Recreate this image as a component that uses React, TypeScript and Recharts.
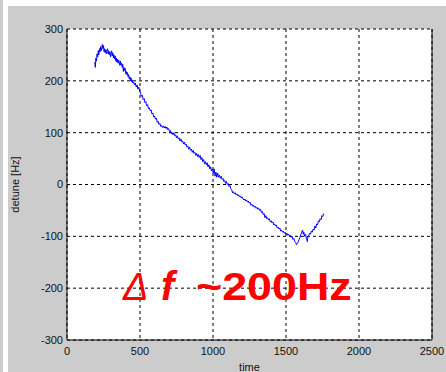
import React from 'react';
import {
  LineChart,
  Line,
  XAxis,
  YAxis,
  CartesianGrid,
  ReferenceLine,
  Customized,
  Label,
} from 'recharts';

// Detune trace as [time, detune in Hz] samples
const detuneTrace: [number, number][] = [
  [190, 236], [194, 226], [198, 244], [202, 238], [206, 252], [210, 246], [214, 258], [218, 250],
  [222, 262], [226, 256], [230, 266], [234, 258], [238, 264], [242, 270], [246, 262], [250, 268],
  [254, 256], [258, 262], [262, 254], [266, 260], [270, 252], [274, 258], [278, 262], [282, 252],
  [286, 258], [290, 250], [294, 256], [298, 246], [302, 252], [306, 258], [310, 248], [314, 254],
  [318, 244], [322, 250], [326, 242], [330, 248], [334, 238], [338, 244], [342, 236], [346, 242],
  [350, 234], [354, 240], [358, 236], [362, 230], [366, 238], [370, 230], [374, 234], [378, 226],
  [382, 232], [386, 218], [390, 226], [394, 220], [398, 224], [402, 214], [406, 218], [410, 212],
  [414, 216], [418, 208], [422, 212], [426, 204], [430, 208], [434, 200], [438, 206], [442, 198],
  [446, 202], [450, 196], [456, 198], [462, 192], [468, 196], [474, 188], [480, 192], [486, 184],
  [492, 188], [498, 180], [504, 176], [510, 170], [516, 172], [522, 164], [528, 166], [534, 158],
  [540, 160], [546, 152], [552, 154], [558, 146], [564, 148], [570, 142], [576, 144], [582, 136],
  [588, 138], [594, 130], [600, 132], [606, 126], [612, 128], [618, 120], [624, 122], [630, 116],
  [636, 118], [642, 112], [648, 114], [654, 110], [660, 113], [666, 109], [672, 112], [678, 108],
  [684, 111], [690, 106], [696, 108], [702, 102], [708, 104], [714, 98], [720, 100], [726, 96],
  [732, 100], [738, 94], [744, 96], [750, 90], [756, 94], [762, 88], [768, 90], [774, 84],
  [780, 88], [786, 82], [792, 84], [798, 78], [804, 82], [810, 76], [816, 78], [822, 72],
  [828, 74], [834, 68], [840, 72], [846, 66], [852, 68], [858, 62], [864, 66], [870, 60],
  [876, 62], [882, 56], [888, 60], [894, 54], [900, 58], [906, 52], [912, 56], [918, 48],
  [924, 52], [930, 44], [936, 48], [942, 40], [948, 44], [954, 38], [960, 42], [966, 34],
  [972, 38], [978, 30], [984, 34], [990, 26], [996, 30], [1002, 22], [1008, 30], [1014, 16],
  [1020, 24], [1026, 14], [1032, 22], [1038, 14], [1044, 18], [1050, 12], [1056, 16], [1062, 10],
  [1068, 12], [1074, 6], [1080, 8], [1086, 2], [1092, 6], [1098, 0], [1104, 2], [1110, -4],
  [1116, -2], [1122, -8], [1128, -10], [1134, -16], [1140, -14], [1146, -18], [1152, -16], [1158, -20],
  [1164, -18], [1170, -22], [1176, -20], [1182, -24], [1188, -22], [1194, -26], [1200, -24], [1206, -28],
  [1212, -30], [1218, -28], [1224, -32], [1230, -30], [1236, -34], [1242, -32], [1248, -36], [1254, -34],
  [1260, -40], [1266, -38], [1272, -42], [1278, -40], [1284, -44], [1290, -42], [1296, -46], [1302, -44],
  [1308, -48], [1314, -46], [1320, -50], [1326, -48], [1332, -54], [1338, -52], [1344, -58], [1350, -56],
  [1356, -64], [1362, -60], [1368, -66], [1374, -64], [1380, -68], [1386, -66], [1392, -72], [1398, -70],
  [1404, -74], [1410, -72], [1416, -78], [1422, -76], [1428, -80], [1434, -78], [1440, -84], [1446, -82],
  [1452, -86], [1458, -84], [1464, -90], [1470, -88], [1476, -92], [1482, -90], [1488, -94], [1494, -92],
  [1500, -96], [1506, -94], [1512, -98], [1518, -96], [1524, -100], [1530, -98], [1536, -102], [1542, -100],
  [1548, -106], [1554, -104], [1560, -110], [1566, -112], [1572, -116], [1578, -114], [1584, -110], [1590, -106],
  [1596, -102], [1602, -96], [1608, -92], [1614, -88], [1618, -96], [1622, -92], [1628, -100], [1634, -96],
  [1640, -104], [1646, -110], [1650, -100], [1656, -98], [1662, -94], [1668, -96], [1674, -90], [1680, -92],
  [1686, -86], [1692, -88], [1698, -80], [1704, -84], [1710, -76], [1716, -78], [1722, -70], [1728, -72],
  [1734, -66], [1740, -68], [1746, -60], [1752, -62], [1758, -56],
];

const xTicks: number[] = [0, 500, 1000, 1500, 2000, 2500];
const yTicks: number[] = [-300, -200, -100, 0, 100, 200, 300];

const data = detuneTrace.map(([t, v]) => ({ time: t, detune: v }));

const FONT = '"Liberation Sans", Arial, sans-serif';

// Large red annotation in the lower part of the plot
const Annotation = () => (
  <g fill="#ff0000">
    <text x={123} y={300} fontFamily={FONT} fontStyle="italic" fontSize={38} fontWeight="normal">
      Δ
    </text>
    <text x={161} y={300} fontFamily={FONT} fontStyle="italic" fontWeight="bold" fontSize={40}>
      f
    </text>
    <g transform="translate(196,300) scale(1.18,1)">
      <text x={0} y={0} fontFamily={FONT} fontWeight="bold" fontSize={38}>
        ~200Hz
      </text>
    </g>
  </g>
);

export default function App() {
  return (
    <div
      style={{
        position: 'absolute',
        left: 0,
        top: 0,
        width: 446,
        height: 372,
        background: '#cccccc',
        overflow: 'hidden',
      }}
    >
      {/* window frame strips */}
      <div style={{ position: 'absolute', left: 3, top: 0, width: 5, height: 372, background: '#ffffff' }} />
      <div style={{ position: 'absolute', left: 8, top: 0, width: 438, height: 6, background: '#ffffff' }} />
      <LineChart
        width={446}
        height={372}
        data={data}
        margin={{ top: 29, right: 14, left: 0, bottom: 0 }}
        style={{ position: 'absolute', left: 0, top: 0 }}
      >
        <CartesianGrid stroke="#000" strokeDasharray="3 3" fill="#ffffff" fillOpacity={1} />
        <XAxis
          dataKey="time"
          type="number"
          domain={[0, 2500]}
          ticks={xTicks}
          height={32}
          tickLine={false}
          tickSize={0}
          tickMargin={7}
          axisLine={{ stroke: '#000', strokeWidth: 1 }}
          tick={{ fill: '#111', fontSize: 11, fontFamily: FONT }}
          interval={0}
          allowDataOverflow
        >
          <Label value="time" position="insideBottom" offset={1} fill="#111" fontSize={11} fontFamily={FONT} />
        </XAxis>
        <YAxis
          type="number"
          domain={[-300, 300]}
          ticks={yTicks}
          width={67}
          tickLine={false}
          tickSize={0}
          tickMargin={4}
          axisLine={{ stroke: '#000', strokeWidth: 1 }}
          tick={{ fill: '#111', fontSize: 11, fontFamily: FONT }}
          interval={0}
          allowDataOverflow
        >
          <Label
            value="detune [Hz]"
            angle={-90}
            position="insideLeft"
            offset={15}
            fill="#111"
            fontSize={11}
            fontFamily={FONT}
            style={{ textAnchor: 'middle' }}
          />
        </YAxis>
        <ReferenceLine x={2500} stroke="#000" strokeWidth={1} />
        <Line
          type="linear"
          dataKey="detune"
          stroke="#0000ff"
          strokeWidth={1}
          dot={false}
          isAnimationActive={false}
        />
        <Customized component={Annotation} />
      </LineChart>
    </div>
  );
}
